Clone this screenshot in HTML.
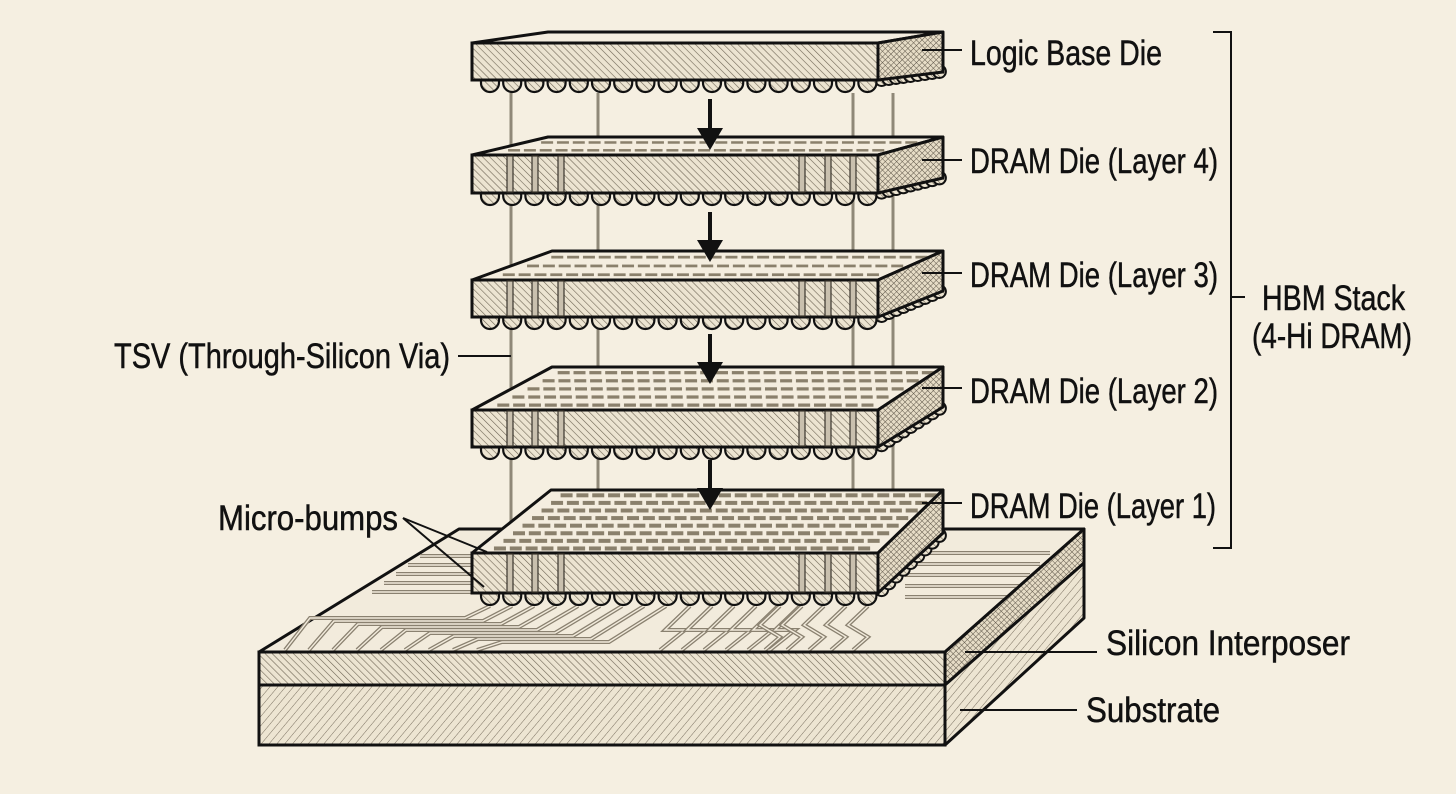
<!DOCTYPE html>
<html><head><meta charset="utf-8">
<style>
html,body{margin:0;padding:0;background:#f5efe1;}
svg{display:block}
text{font-family:"Liberation Sans Narrow","Liberation Sans",sans-serif;fill:#111;stroke:#111;stroke-width:0.5;}
</style></head>
<body>
<svg id="s" width="1456" height="794" viewBox="0 0 1456 794" xmlns="http://www.w3.org/2000/svg">
<defs>
<pattern id="h1" patternUnits="userSpaceOnUse" width="5" height="5" patternTransform="rotate(-45)">
<rect width="5" height="5" fill="#ece4d1"/><line x1="0" y1="0" x2="0" y2="5" stroke="#6f6656" stroke-width="1.2"/></pattern>
<pattern id="hx" patternUnits="userSpaceOnUse" width="4" height="4" patternTransform="rotate(45)">
<rect width="4" height="4" fill="#e6dcc6"/><line x1="0" y1="0" x2="0" y2="4" stroke="#5f574a" stroke-width="1"/><line x1="0" y1="0" x2="4" y2="0" stroke="#5f574a" stroke-width="1"/></pattern>
<pattern id="hs" patternUnits="userSpaceOnUse" width="6" height="6" patternTransform="rotate(40)">
<rect width="6" height="6" fill="#ede5d2"/><line x1="0" y1="0" x2="0" y2="6" stroke="#7a7060" stroke-width="1"/></pattern>
</defs>
<g id="base"></g>
<g id="tsvl"></g>
<g id="dies"></g>
<g id="lbl"></g>
</svg>
<script>
const NS="http://www.w3.org/2000/svg";
function el(p,t,a,txt){const e=document.createElementNS(NS,t);for(const k in a)e.setAttribute(k,a[k]);if(txt!==undefined)e.textContent=txt;p.appendChild(e);return e;}
const base=document.getElementById('base'),dies=document.getElementById('dies'),lbl=document.getElementById('lbl'),tsvl=document.getElementById('tsvl');
const K="#111";
el(base,'polygon',{points:"259,652 945,652 1084,529 459,529",fill:"#f2ebdc",stroke:K,"stroke-width":3,"stroke-linejoin":"round"});
const tr=(d)=>{el(base,'path',{d:d,fill:"none",stroke:"#8a8170","stroke-width":4,"stroke-linejoin":"miter"});el(base,'path',{d:d,fill:"none",stroke:"#f2ebdc","stroke-width":1.4});};
for(let i=0;i<5;i++){tr(`M ${420-i*12} ${556+i*9} L 472 ${556+i*9}`);}
for(let i=0;i<5;i++){tr(`M 905 ${553+i*11} L ${1050-i*10} ${553+i*11}`);}
for(let i=0;i<9;i++){let x=490+i*22;tr(`M ${x} 606 L ${x-25-i*4} ${618+i*3} L ${310+i*24} ${618+i*3} L ${285+i*24} 650`);}
for(let i=0;i<6;i++){let x=690+i*22;tr(`M ${x} 606 L ${x-25} 630 L ${x-5} 630 L ${x-30} 650`);}
for(let i=0;i<5;i++){let x=780+i*22;tr(`M ${x} 606 L ${x-20} 625 L ${x} 637 L ${x-15} 650`);}
el(base,'polygon',{points:"259,652 945,652 945,685 259,685",fill:"url(#h1)",stroke:K,"stroke-width":3});
el(base,'polygon',{points:"259,685 945,685 945,745 259,745",fill:"url(#hs)",stroke:K,"stroke-width":3});
el(base,'polygon',{points:"945,652 1084,529 1084,563 945,685",fill:"url(#hx)",stroke:K,"stroke-width":3,"stroke-linejoin":"round"});
el(base,'polygon',{points:"945,685 1084,563 1084,618 945,745",fill:"url(#hs)",stroke:K,"stroke-width":3,"stroke-linejoin":"round"});
[[511,93,555],[853,93,555],[598,93,510],[893,93,500]].forEach(([x,a,b])=>el(tsvl,'line',{x1:x,y1:a,x2:x,y2:b,stroke:"#8f8878","stroke-width":3}));
const D=[{B:32,F:43,b:80,bx:548,dram:false,rows:0},{B:137,F:155,b:193,bx:548,dram:true,rows:2},{B:251,F:280,b:317,bx:552,dram:true,rows:3},{B:367,F:410,b:447,bx:552,dram:true,rows:5},{B:490,F:553,b:593,bx:551,dram:true,rows:8}];
D.forEach((d)=>{
 const g=el(dies,'g',{});
 const h=d.b-d.F;
 for(let i=0;i<9;i++){const t=(i+0.5)/9;const x=878+65*t,y=d.b-(d.b-(d.B+h+2))*t;el(g,'circle',{cx:x,cy:y,r:6.5,fill:"url(#h1)",stroke:K,"stroke-width":2});}
 for(let i=0;i<18;i++){const x=490+i*22.2;el(g,'path',{d:`M ${x-9} ${d.b-1} L ${x-9} ${d.b+3} A 9 9 0 0 0 ${x+9} ${d.b+3} L ${x+9} ${d.b-1} Z`,fill:"url(#h1)",stroke:K,"stroke-width":2.2});}
 el(g,'polygon',{points:`472,${d.F} 878,${d.F} 943,${d.B} ${d.bx},${d.B}`,fill:"#f4eddf",stroke:K,"stroke-width":3,"stroke-linejoin":"round"});
 if(d.dram){
  const fl=[472,d.F],bl=[d.bx,d.B];
  for(let r=0;r<d.rows;r++){const v=(r+0.6)/(d.rows+0.3);
   const ox=fl[0]+(bl[0]-fl[0])*v, oy=fl[1]+(bl[1]-fl[1])*v;
   for(let c=0;c<24;c++){const u=0.04+c*0.039;const x=ox+406*u;
    el(g,'line',{x1:x,y1:oy,x2:x+12,y2:oy,stroke:"#8a806c","stroke-width":Math.min(4,2+d.rows*0.25)});}}
 }
 el(g,'rect',{x:472,y:d.F,width:406,height:h,fill:"url(#h1)",stroke:K,"stroke-width":3});
 if(d.dram){[510,535,561,802,828,853].forEach(x=>{el(g,'rect',{x:x-3,y:d.F+1,width:6,height:h-2,fill:"#c9c0ae",stroke:"#3a352c","stroke-width":1.2});});}
 el(g,'polygon',{points:`878,${d.F} 943,${d.B} 943,${d.B+h+3} 878,${d.b}`,fill:"url(#hx)",stroke:K,"stroke-width":3,"stroke-linejoin":"round"});
});
[[99,150],[212,262],[334,384],[460,510]].forEach(([a,b])=>{el(lbl,'line',{x1:710,y1:a,x2:710,y2:b-18,stroke:K,"stroke-width":4});el(lbl,'polygon',{points:`697,${b-22} 723,${b-22} 710,${b}`,fill:K});});
const L=(x,y,w,t)=>el(lbl,'text',{x:x,y:y,"font-size":35,textLength:w,lengthAdjust:"spacingAndGlyphs"},t);
const ln=(x1,y1,x2,y2)=>el(lbl,'line',{x1,y1,x2,y2,stroke:K,"stroke-width":2});
L(970,65,192,"Logic Base Die");ln(922,50,962,50);
L(970,173,248,"DRAM Die (Layer 4)");ln(922,160,962,160);
L(970,287,248,"DRAM Die (Layer 3)");ln(922,273,962,273);
L(970,403,248,"DRAM Die (Layer 2)");ln(922,388,962,388);
L(970,518,246,"DRAM Die (Layer 1)");ln(922,503,962,503);
el(lbl,'path',{d:"M 1213 32 L 1231 32 L 1231 548 L 1213 548 M 1231 297 L 1245 297",fill:"none",stroke:K,"stroke-width":2});
L(1262,310,143,"HBM Stack");L(1252,348,160,"(4-Hi DRAM)");
L(114,368,336,"TSV (Through-Silicon Via)");ln(458,356,511,356);
L(218,530,180,"Micro-bumps");ln(403,518,487,552);ln(403,518,484,587);
L(1106,655,244,"Silicon Interposer");ln(965,652,1097,652);
L(1086,722,134,"Substrate");ln(960,710,1077,710);
</script>
</body></html>
